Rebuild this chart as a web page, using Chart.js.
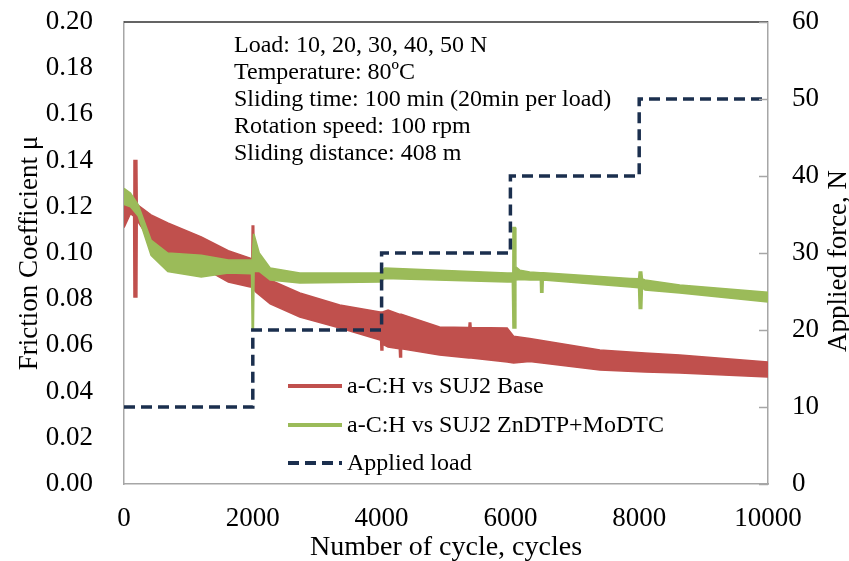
<!DOCTYPE html>
<html><head><meta charset="utf-8">
<script src="https://cdn.jsdelivr.net/npm/chart.js@4/dist/chart.umd.min.js"></script>
<style>html,body{margin:0;padding:0;background:#fff}</style>
</head><body>
<canvas id="c" width="849" height="561"></canvas>
<script>
// ---------- DATA ----------
const cycleTicks = [0, 2000, 4000, 6000, 8000, 10000];
const frictionTicks = [0, 0.02, 0.04, 0.06, 0.08, 0.10, 0.12, 0.14, 0.16, 0.18, 0.20];
const forceTicks = [0, 10, 20, 30, 40, 50, 60];

// a-C:H vs SUJ2 Base : band envelope (upper / lower) of the noisy friction trace
const baseCycles = [0, 100, 150, 155, 200, 205, 300, 420, 680, 1200, 1620, 1960, 1985, 1990, 2015, 2020, 2050, 2270, 2730, 3350, 3975, 3985, 3990, 4015, 4020, 4100, 4275, 4280, 4305, 4310, 4900, 5355, 5360, 5385, 5390, 5950, 6050, 6300, 7390, 8090, 8630, 10000];
const baseHigh   = [0.121, 0.123, 0.122, 0.140, 0.140, 0.121, 0.119, 0.1165, 0.113, 0.107, 0.101, 0.0978, 0.0975, 0.1117, 0.1117, 0.097, 0.095, 0.0883, 0.0827, 0.0775, 0.0745, 0.0745, 0.0745, 0.0745, 0.0745, 0.0753, 0.0735, 0.0735, 0.0735, 0.0735, 0.068, 0.0678, 0.0697, 0.0697, 0.0678, 0.0675, 0.064, 0.063, 0.058, 0.0567, 0.0558, 0.0528];
const baseLow    = [0.111, 0.117, 0.116, 0.081, 0.081, 0.114, 0.110, 0.104, 0.100, 0.094, 0.0874, 0.0853, 0.0853, 0.0853, 0.084, 0.084, 0.083, 0.078, 0.0723, 0.0675, 0.0623, 0.0623, 0.058, 0.058, 0.0605, 0.0593, 0.0585, 0.055, 0.055, 0.0585, 0.0558, 0.0545, 0.0545, 0.0545, 0.0545, 0.0528, 0.0524, 0.053, 0.0494, 0.0485, 0.048, 0.0463];

// a-C:H vs SUJ2 ZnDTP+MoDTC : band envelope
const zdCycles = [0, 100, 220, 420, 680, 1200, 1620, 1980, 1990, 2010, 2020, 2100, 2270, 2730, 3975, 4050, 5950, 6030, 6040, 6075, 6085, 6150, 6300, 6465, 6470, 6505, 6510, 7860, 7990, 8000, 8040, 8050, 8090, 8630, 10000];
const zdHigh   = [0.128, 0.126, 0.121, 0.1056, 0.100, 0.099, 0.097, 0.097, 0.097, 0.108, 0.108, 0.100, 0.0935, 0.0913, 0.0913, 0.0935, 0.0913, 0.0913, 0.111, 0.111, 0.094, 0.0925, 0.0918, 0.0915, 0.0915, 0.0915, 0.0915, 0.089, 0.0888, 0.0918, 0.0918, 0.0888, 0.0883, 0.0861, 0.083];
const zdLow    = [0.121, 0.120, 0.116, 0.099, 0.092, 0.0896, 0.0913, 0.091, 0.067, 0.067, 0.092, 0.092, 0.0883, 0.087, 0.0874, 0.089, 0.0874, 0.0874, 0.0675, 0.0675, 0.0883, 0.0885, 0.0883, 0.0883, 0.083, 0.083, 0.0883, 0.0853, 0.085, 0.076, 0.076, 0.085, 0.084, 0.0827, 0.0788];

// Applied load steps (N)
const loadCycles = [0, 2000, 4000, 6000, 8000, 10000];
const loadValues = [10, 20, 30, 40, 50, 50];

const seriesLabels = ['a-C:H vs SUJ2 Base', 'a-C:H vs SUJ2 ZnDTP+MoDTC', 'Applied load'];
const infoLines = [
  'Load: 10, 20, 30, 40, 50 N',
  'Temperature: 80\u00BAC',
  'Sliding time: 100 min (20min per load)',
  'Rotation speed: 100 rpm',
  'Sliding distance: 408 m'
];
const xTitle = 'Number of cycle, cycles';
const yTitle = 'Friction Coefficient \u03BC';
const y2Title = 'Applied force, N';

// ---------- STYLE ----------
const RED = '#c0504d', GREEN = '#9bbb59', NAVY = '#1b2f4e';
const AXIS = '#a6a6a6';
const SERIF = "'Liberation Serif','Times New Roman',serif";

const pts = (xs, ys) => xs.map((x, i) => ({ x: x, y: ys[i] }));

const decor = {
  id: 'decor',
  afterDatasetsDraw(chart) {
    const ctx = chart.ctx, a = chart.chartArea;
    ctx.save();
    ctx.strokeStyle = '#303030'; ctx.lineWidth = 1.5;
    ctx.beginPath(); ctx.moveTo(a.left, a.top); ctx.lineTo(a.right, a.top); ctx.stroke();
    const y2 = chart.scales.y2;
    ctx.strokeStyle = AXIS; ctx.lineWidth = 1.5;
    y2.ticks.forEach(t => {
      const py = Math.round(y2.getPixelForValue(t.value)) + 0.5;
      ctx.beginPath(); ctx.moveTo(a.right - 9, py); ctx.lineTo(a.right, py); ctx.stroke();
    });
    ctx.restore();
  },
  afterDraw(chart) {
    const ctx = chart.ctx, a = chart.chartArea;
    ctx.save();
    ctx.fillStyle = '#000';
    ctx.font = '24px ' + SERIF;
    ctx.textAlign = 'left'; ctx.textBaseline = 'middle';
    infoLines.forEach((t, i) => ctx.fillText(t, 234, 46 + i * 27));
    const items = [
      { label: seriesLabels[0], color: RED, dash: [], y: 386 },
      { label: seriesLabels[1], color: GREEN, dash: [], y: 425 },
      { label: seriesLabels[2], color: NAVY, dash: [11, 6], y: 463 }
    ];
    items.forEach(it => {
      ctx.strokeStyle = it.color; ctx.lineWidth = 4; ctx.setLineDash(it.dash);
      ctx.beginPath(); ctx.moveTo(288, it.y); ctx.lineTo(342, it.y); ctx.stroke();
      ctx.setLineDash([]);
      ctx.fillText(it.label, 347, it.y + 1);
    });
    ctx.textAlign = 'center';
    ctx.font = '28px ' + SERIF;
    ctx.fillText(xTitle, (a.left + a.right) / 2, 548);
    ctx.font = '27px ' + SERIF;
    ctx.textBaseline = 'alphabetic';
    ctx.save(); ctx.translate(37, 253); ctx.rotate(-Math.PI / 2); ctx.fillText(yTitle, 0, 0); ctx.restore();
    ctx.save(); ctx.translate(846, 261); ctx.rotate(-Math.PI / 2); ctx.fillText(y2Title, 0, 0); ctx.restore();
    ctx.restore();
  }
};

const tickFont = { family: SERIF, size: 27 };
const noPad = s => { s.paddingTop = 0; s.paddingBottom = 0; s.paddingLeft = 0; s.paddingRight = 0; };

new Chart(document.getElementById('c'), {
  type: 'line',
  data: {
    datasets: [
      { label: seriesLabels[1] + ' upper', data: pts(zdCycles, zdHigh), yAxisID: 'y', borderColor: GREEN, borderWidth: 1.5, fill: false, order: 0 },
      { label: seriesLabels[1], data: pts(zdCycles, zdLow), yAxisID: 'y', borderColor: GREEN, borderWidth: 1.5, backgroundColor: GREEN, fill: '-1', order: 0 },
      { label: seriesLabels[0] + ' upper', data: pts(baseCycles, baseHigh), yAxisID: 'y', borderColor: RED, borderWidth: 1.5, fill: false, order: 1 },
      { label: seriesLabels[0], data: pts(baseCycles, baseLow), yAxisID: 'y', borderColor: RED, borderWidth: 1.5, backgroundColor: RED, fill: '-1', order: 1 },
      { label: seriesLabels[2], data: pts(loadCycles, loadValues), yAxisID: 'y2', borderColor: NAVY, borderWidth: 3.5, borderDash: [11, 6], stepped: true, fill: false, order: -1 }
    ]
  },
  options: {
    responsive: false,
    animation: false,
    devicePixelRatio: 1,
    layout: { padding: { top: 22, left: 0, right: 0, bottom: 0 } },
    elements: { point: { radius: 0 }, line: { tension: 0 } },
    plugins: { legend: { display: false }, tooltip: { enabled: false }, title: { display: false } },
    scales: {
      x: {
        type: 'linear', min: 0, max: 10000,
        afterBuildTicks: s => { s.ticks = cycleTicks.map(v => ({ value: v })); },
        afterFit: s => { s.height = 77; noPad(s); },
        grid: { display: false, drawTicks: false, tickLength: 0 },
        border: { display: true, color: AXIS, width: 1.5 },
        ticks: { font: tickFont, color: '#000', padding: 19, maxRotation: 0, autoSkip: false, callback: v => String(v) }
      },
      y: {
        position: 'left', min: 0, max: 0.2,
        afterBuildTicks: s => { s.ticks = frictionTicks.map(v => ({ value: v })); },
        afterFit: s => { s.width = 124; noPad(s); },
        grid: { display: false, drawTicks: false, tickLength: 0 },
        border: { display: true, color: AXIS, width: 1.5 },
        ticks: { font: tickFont, color: '#000', padding: 31, callback: v => Number(v).toFixed(2), autoSkip: false }
      },
      y2: {
        position: 'right', min: 0, max: 60,
        afterBuildTicks: s => { s.ticks = forceTicks.map(v => ({ value: v })); },
        afterFit: s => { s.width = 81; noPad(s); },
        grid: { display: false, drawTicks: false, tickLength: 0 },
        border: { display: true, color: AXIS, width: 1.5 },
        ticks: { font: tickFont, color: '#000', padding: 24, autoSkip: false, callback: v => String(v) }
      }
    }
  },
  plugins: [decor]
});
</script>
</body></html>
